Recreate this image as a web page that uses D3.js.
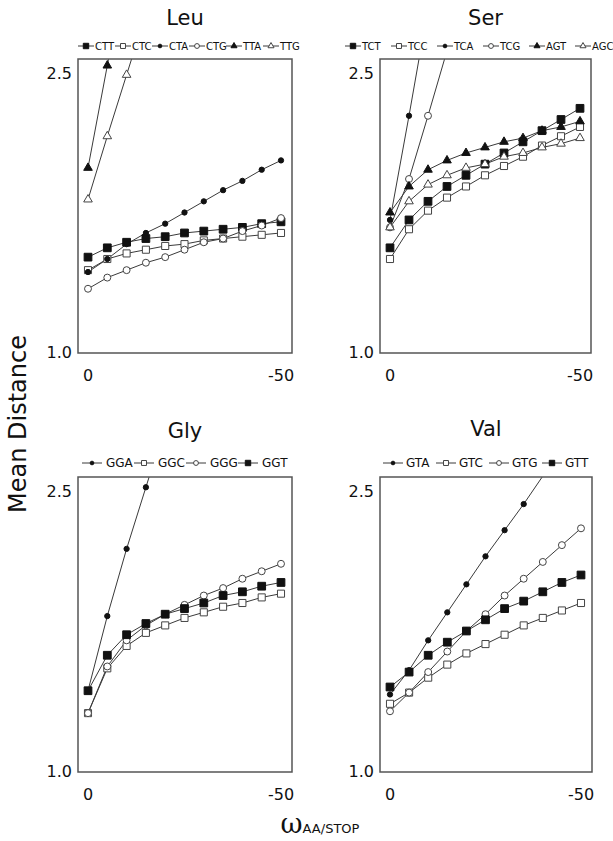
<!DOCTYPE html>
<html>
<head>
<meta charset="utf-8">
<script src="https://cdn.jsdelivr.net/npm/d3@7"></script>
<style>
  body { margin: 0; background: #fff; }
  text { font-family: "DejaVu Sans", Verdana, sans-serif; fill: #111; }
</style>
</head>
<body>
<svg id="chart" width="613" height="841"></svg>
<script>
// omega AA/STOP steps (x axis)
const steps = [0, -5, -10, -15, -20, -25, -30, -35, -40, -45, -50];

// --- Leu ---
const leuCodons = ['CTT', 'CTC', 'CTA', 'CTG', 'TTA', 'TTG'];
const leuCTT = [1.51, 1.56, 1.59, 1.61, 1.62, 1.64, 1.65, 1.66, 1.67, 1.69, 1.70];
const leuCTC = [1.44, 1.50, 1.53, 1.55, 1.57, 1.58, 1.60, 1.61, 1.62, 1.63, 1.64];
const leuCTA = [1.43, 1.50, 1.58, 1.64, 1.69, 1.75, 1.81, 1.87, 1.92, 1.98, 2.03];
const leuCTG = [1.34, 1.40, 1.44, 1.48, 1.51, 1.55, 1.59, 1.61, 1.65, 1.68, 1.72];
const leuTTA = [1.99, 2.54, 3.10];
const leuTTG = [1.82, 2.16, 2.49, 2.82];

// --- Ser ---
const serCodons = ['TCT', 'TCC', 'TCA', 'TCG', 'AGT', 'AGC'];
const serTCT = [1.56, 1.71, 1.81, 1.89, 1.95, 2.01, 2.07, 2.13, 2.19, 2.25, 2.31];
const serTCC = [1.50, 1.66, 1.76, 1.83, 1.89, 1.95, 2.00, 2.05, 2.11, 2.16, 2.21];
const serTCA = [1.71, 2.27, 2.85];
const serTCG = [1.67, 1.93, 2.27, 2.62];
const serAGT = [1.75, 1.89, 1.98, 2.03, 2.07, 2.10, 2.13, 2.15, 2.19, 2.21, 2.24];
const serAGC = [1.67, 1.81, 1.90, 1.95, 1.99, 2.01, 2.05, 2.07, 2.10, 2.12, 2.15];

// --- Gly ---
const glyCodons = ['GGA', 'GGC', 'GGG', 'GGT'];
const glyGGA = [1.43, 1.83, 2.19, 2.52, 2.85];
const glyGGC = [1.31, 1.55, 1.67, 1.74, 1.78, 1.82, 1.85, 1.88, 1.90, 1.93, 1.95];
const glyGGG = [1.31, 1.56, 1.70, 1.78, 1.84, 1.89, 1.94, 1.98, 2.03, 2.07, 2.11];
const glyGGT = [1.43, 1.62, 1.73, 1.79, 1.84, 1.87, 1.90, 1.94, 1.96, 1.99, 2.01];

// --- Val ---
const valCodons = ['GTA', 'GTC', 'GTG', 'GTT'];
const valGTA = [1.41, 1.54, 1.70, 1.85, 2.00, 2.15, 2.29, 2.43, 2.58];
const valGTC = [1.36, 1.42, 1.50, 1.57, 1.63, 1.68, 1.73, 1.78, 1.82, 1.86, 1.90];
const valGTG = [1.32, 1.42, 1.53, 1.64, 1.75, 1.84, 1.94, 2.03, 2.12, 2.21, 2.30];
const valGTT = [1.45, 1.53, 1.62, 1.69, 1.75, 1.81, 1.87, 1.91, 1.96, 2.01, 2.05];

const xTicks = [0, -50];
const xTickLabels = ['0', '-50'];
const yTicks = [1.0, 2.5];

const panels = [
  { name: 'Leu', codons: leuCodons, series: [leuCTT, leuCTC, leuCTA, leuCTG, leuTTA, leuTTG],
    marks: ['sqF', 'sqO', 'ciF', 'ciO', 'trF', 'trO'],
    box: { x: 78, y: 59, w: 214, h: 294 }, titleY: 25,
    legend: { x: 78, y: 46, step: 37, seg: 16, font: 10, gap: 1 } },
  { name: 'Ser', codons: serCodons, series: [serTCT, serTCC, serTCA, serTCG, serAGT, serAGC],
    marks: ['sqF', 'sqO', 'ciF', 'ciO', 'trF', 'trO'],
    box: { x: 380, y: 59, w: 211, h: 294 }, titleY: 25,
    legend: { x: 345, y: 46, step: 46, seg: 16, font: 10, gap: 1 } },
  { name: 'Gly', codons: glyCodons, series: [glyGGA, glyGGC, glyGGG, glyGGT],
    marks: ['ciF', 'sqO', 'ciO', 'sqF'],
    box: { x: 78, y: 477, w: 214, h: 295 }, titleY: 438,
    legend: { x: 82, y: 463, step: 52, seg: 20, font: 12, gap: 4 } },
  { name: 'Val', codons: valCodons, series: [valGTA, valGTC, valGTG, valGTT],
    marks: ['ciF', 'sqO', 'ciO', 'sqF'],
    box: { x: 380, y: 477, w: 212, h: 295 }, titleY: 436,
    legend: { x: 383, y: 463, step: 53, seg: 20, font: 12, gap: 3 } },
];

const LINE = '#3a3a3a';

const svg = d3.select('#chart');
const defs = svg.append('defs');

function markerPath(kind, scale) {
  const s = scale || 1;
  if (kind.startsWith('sq')) return d3.symbol(d3.symbolSquare, (kind === 'sqF' ? 60 : 50) * s * s)();
  if (kind === 'ciF') return d3.symbol(d3.symbolCircle, 22 * s * s)();
  if (kind === 'ciO') return d3.symbol(d3.symbolCircle, 38 * s * s)();
  return d3.symbol(d3.symbolTriangle, 32 * s * s)();
}

function drawMarker(g, kind, x, y, scale) {
  const filled = kind.endsWith('F');
  g.append('path')
    .attr('d', markerPath(kind, scale))
    .attr('transform', `translate(${x},${y})`)
    .attr('fill', filled ? '#111' : '#fff')
    .attr('stroke', filled ? '#111' : '#444')
    .attr('stroke-width', 1);
}

panels.forEach((p, pi) => {
  const b = p.box;
  const x = d3.scaleLinear().domain([0, -50]).range([b.x + 10, b.x + b.w - 11]);
  const y = d3.scaleLinear().domain([1.0, 2.5]).range([b.y + b.h - 1, b.y + 14]);

  const clipId = 'clip' + pi;
  defs.append('clipPath').attr('id', clipId)
    .append('rect').attr('x', b.x).attr('y', b.y).attr('width', b.w).attr('height', b.h);

  // title
  svg.append('text')
    .attr('x', b.x + b.w / 2).attr('y', p.titleY)
    .attr('text-anchor', 'middle').attr('font-size', 21)
    .text(p.name);

  // legend
  const L = p.legend;
  const lg = svg.append('g');
  p.codons.forEach((c, i) => {
    const lx = L.x + i * L.step;
    lg.append('line')
      .attr('x1', lx).attr('x2', lx + L.seg)
      .attr('y1', L.y).attr('y2', L.y)
      .attr('stroke', LINE).attr('stroke-width', 1);
    drawMarker(lg, p.marks[i], lx + L.seg / 2, L.y, 0.7);
    lg.append('text')
      .attr('x', lx + L.seg + L.gap).attr('y', L.y)
      .attr('dominant-baseline', 'central')
      .attr('font-size', L.font)
      .text(c);
  });

  // series
  const plot = svg.append('g').attr('clip-path', `url(#${clipId})`);
  const line = d3.line().x((d, i) => x(steps[i])).y(d => y(d));
  p.series.forEach(vals => {
    plot.append('path')
      .datum(vals)
      .attr('d', line)
      .attr('fill', 'none')
      .attr('stroke', LINE)
      .attr('stroke-width', 1);
  });
  p.series.forEach((vals, si) => {
    vals.forEach((v, i) => {
      if (y(v) < b.y + 3) return;
      drawMarker(plot, p.marks[si], x(steps[i]), y(v), 1);
    });
  });

  // frame
  svg.append('rect')
    .attr('x', b.x).attr('y', b.y).attr('width', b.w).attr('height', b.h)
    .attr('fill', 'none').attr('stroke', '#555').attr('stroke-width', 1.5);

  // y tick labels
  svg.selectAll(null).data(yTicks).enter().append('text')
    .attr('x', b.x - 6).attr('y', d => y(d))
    .attr('text-anchor', 'end').attr('dominant-baseline', 'central')
    .attr('font-size', 16)
    .text(d => d.toFixed(1));

  // x tick labels
  svg.selectAll(null).data(xTicks).enter().append('text')
    .attr('x', d => x(d)).attr('y', b.y + b.h + 22)
    .attr('text-anchor', 'middle').attr('dominant-baseline', 'central')
    .attr('font-size', 16)
    .text((d, i) => xTickLabels[i]);
});

// y axis title
svg.append('text')
  .attr('transform', 'translate(26,424) rotate(-90)')
  .attr('text-anchor', 'middle')
  .attr('font-size', 24)
  .text('Mean Distance');

// x axis title
const xt = svg.append('text')
  .attr('x', 320).attr('y', 833)
  .attr('text-anchor', 'middle');
xt.append('tspan').attr('font-size', 27).attr('font-family', '"DejaVu Serif", serif').text('ω');
xt.append('tspan').attr('font-size', 13).text('AA/STOP');
</script>
</body>
</html>
